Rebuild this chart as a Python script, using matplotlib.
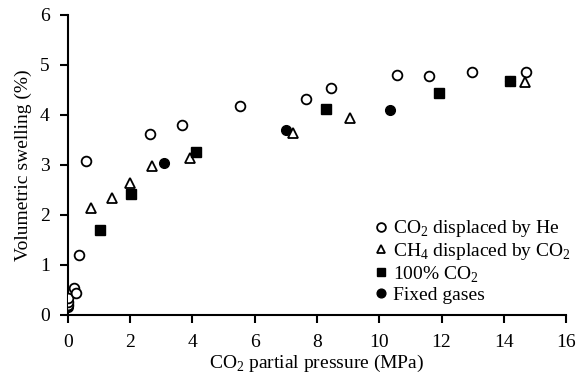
import matplotlib
matplotlib.use('Agg')
import matplotlib.pyplot as plt

plt.rcParams['font.family'] = ['Liberation Serif', 'DejaVu Serif']
plt.rcParams['mathtext.fontset'] = 'custom'
plt.rcParams['mathtext.rm'] = 'Liberation Serif'

# CO2 displaced by He (open circles)
he_x = [0.0, 0.0, 0.0, 0.2, 0.27, 0.36, 0.58, 2.63, 3.65, 5.52, 7.64, 8.46, 10.56, 11.6, 12.98, 14.7]
he_y = [0.19, 0.26, 0.33, 0.54, 0.44, 1.19, 3.08, 3.61, 3.80, 4.17, 4.32, 4.54, 4.79, 4.78, 4.85, 4.85]

# CH4 displaced by CO2 (open triangles)
ch4_x = [0.73, 1.42, 2.0, 2.69, 3.92, 7.24, 9.05, 14.69]
ch4_y = [2.13, 2.33, 2.63, 2.97, 3.13, 3.63, 3.93, 4.65]

# 100% CO2 (filled squares)
co2_x = [1.03, 2.03, 4.13, 8.29, 11.93, 14.19]
co2_y = [1.70, 2.42, 3.25, 4.12, 4.43, 4.67]

# Fixed gases (filled circles)
fix_x = [0.0, 3.1, 7.0, 10.33, 14.21]
fix_y = [0.15, 3.03, 3.70, 4.10, 4.67]

fig = plt.figure(figsize=(5.8, 3.84), dpi=100)
ax = fig.add_axes([0.117, 0.18, 0.859, 0.781])

ax.plot(fix_x, fix_y, 'o', ms=7, mfc='black', mec='black', label='Fixed gases', zorder=3)
ax.plot(he_x, he_y, 'o', ms=7, mfc='white', mec='black', mew=1.3,
        label=r'CO$_2$ displaced by He', zorder=4)
ax.plot(ch4_x, ch4_y, '^', ms=6.5, mfc='white', mec='black', mew=1.3,
        label=r'CH$_4$ displaced by CO$_2$', zorder=4)
ax.plot(co2_x, co2_y, 's', ms=6.5, mfc='black', mec='black', label=r'100% CO$_2$', zorder=4)

ax.set_xlim(0, 16)
ax.set_ylim(0, 6)
ax.set_xticks(range(0, 17, 2))
ax.set_yticks(range(0, 7))
for s in ['top', 'right']:
    ax.spines[s].set_visible(False)
for s in ['left', 'bottom']:
    ax.spines[s].set_linewidth(1.5)
ax.tick_params(direction='out', length=6, width=1.5, labelsize=14)
ax.tick_params(axis='x', pad=8)
ax.tick_params(axis='y', pad=7)
ax.set_xlabel(r'CO$_2$ partial pressure (MPa)', fontsize=14, labelpad=1)
ax.set_ylabel('Volumetric swelling (%)', fontsize=14, labelpad=6)

h, l = ax.get_legend_handles_labels()
order = [1, 2, 3, 0]
ax.legend([h[i] for i in order], [l[i] for i in order], loc='lower right', frameon=False,
          fontsize=14, handletextpad=0.1, handlelength=1.0, labelspacing=0.1,
          markerscale=0.9, borderaxespad=0.0, bbox_to_anchor=(1.025, 0.01))

fig.savefig('out.png', dpi=100)
